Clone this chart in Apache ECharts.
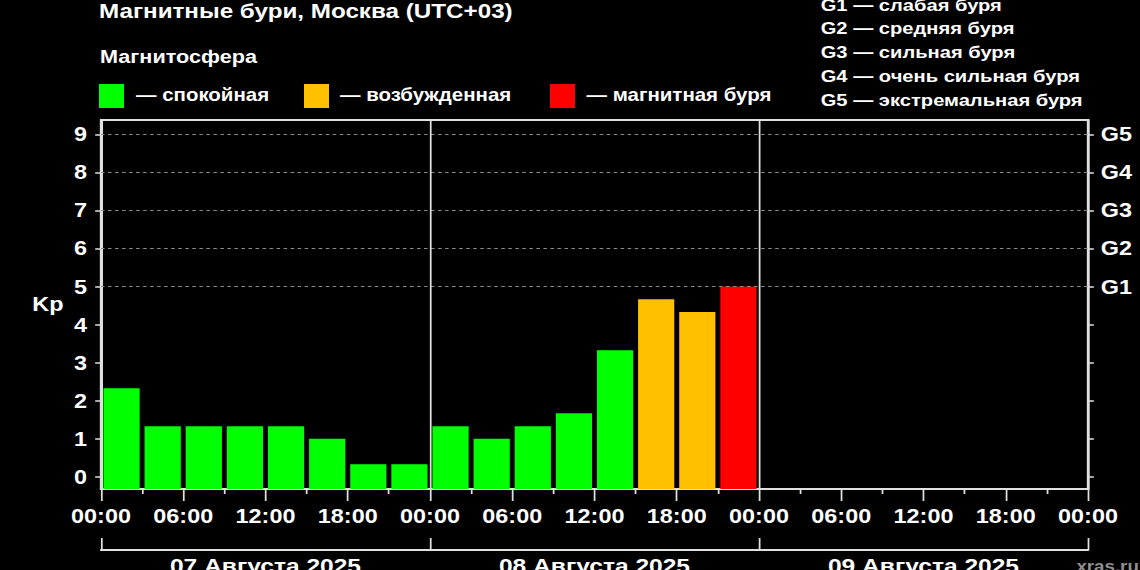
<!DOCTYPE html>
<html><head><meta charset="utf-8">
<script src="https://cdn.jsdelivr.net/npm/echarts@6/dist/echarts.min.js"></script>
<style>
html,body{margin:0;padding:0;background:#000;overflow:hidden;width:1140px;height:570px}
#chart{position:absolute;left:0;top:0;height:570px;transform-origin:0 0}
</style></head><body><div id="chart"></div>
<script>
// ---- data ----
const titleText = 'Магнитные бури, Москва (UTC+03)';
const subtitleText = 'Магнитосфера';
const dayLabels = ['07 Августа 2025', '08 Августа 2025', '09 Августа 2025'];
const hourLabels = ['00:00', '06:00', '12:00', '18:00'];
const kpValues = [2.33, 1.33, 1.33, 1.33, 1.33, 1.0, 0.33, 0.33,
                  1.33, 1.0, 1.33, 1.67, 3.33, 4.67, 4.33, 5.0];
const kpTicks = [0, 1, 2, 3, 4, 5, 6, 7, 8, 9];
const gLevels = [5, 6, 7, 8, 9];
const gLabels = ['G1', 'G2', 'G3', 'G4', 'G5'];
const gNames = ['слабая буря', 'средняя буря', 'сильная буря', 'очень сильная буря', 'экстремальная буря'];
const stateNames = ['спокойная', 'возбужденная', 'магнитная буря'];
const stateColors = ['#00ff00', '#ffc000', '#ff0000'];
const stateLimits = [4, 5];
const slotHours = 3;
const watermark = 'xras.ru';

// ---- layout ----
const W = 974;
const SX = 1140 / W;
const FONT = "'Liberation Sans', Arial, Helvetica, sans-serif";
const Y_MIN = -0.32, Y_MAX = 9.38;
const hoursTotal = dayLabels.length * 24;
const el = document.getElementById('chart');
el.style.width = W + 'px';
el.style.transform = 'scaleX(' + SX + ')';

function colorFor(v) {
  if (v >= stateLimits[1]) return stateColors[2];
  if (v >= stateLimits[0]) return stateColors[1];
  return stateColors[0];
}
function txt(refX, y, t, size, extra) {
  return Object.assign({
    type: 'text', x: refX / SX, y: y, silent: true,
    style: { text: t, fill: '#ffffff', fontSize: size, fontWeight: 'bold', fontFamily: FONT,
             verticalAlign: 'middle', align: 'left' }
  }, extra || {});
}

const graphics = [];
graphics.push(txt(99, 11, titleText, 20.7));
graphics.push(txt(100, 57, subtitleText, 18.5));
const sqX = [99, 304, 550], lgX = [136, 340, 586.5];
stateNames.forEach((n, i) => {
  graphics.push({ type: 'rect', silent: true, shape: { x: sqX[i] / SX, y: 84, width: 25 / SX, height: 24 },
                  style: { fill: stateColors[i] } });
  graphics.push(txt(lgX[i], 95, '— ' + n, 17.5));
});
gLabels.forEach((g, i) => {
  graphics.push(txt(820.7, 4.6 + 23.9 * i, g + ' — ' + gNames[i], 17.2));
});
graphics.push({ type: 'text', silent: true, x: W - 1, y: 566,
  style: { text: watermark, fill: '#8f8f8f', fontSize: 16, fontWeight: 'bold', fontFamily: FONT,
           align: 'right', verticalAlign: 'middle' } });

const lineCol = '#e0e0e0';
const labelStyle = { color: '#ffffff', fontSize: 20, fontWeight: 'bold', fontFamily: FONT };

const markData = gLevels.map(v => ({ yAxis: v, lineStyle: { type: [3, 3], color: '#8c8c8c', width: 1 } }))
  .concat(dayLabels.slice(1).map((d, i) => ({ xAxis: (i + 1) * 24, lineStyle: { type: 'solid', color: lineCol, width: 1.5 } })));

const chart = echarts.init(el, null, { renderer: 'svg', width: W, height: 570 });
chart.setOption({
  backgroundColor: '#000000',
  animation: false,
  grid: { left: 101 / SX, right: W - 1088 / SX, top: 120, bottom: 81, show: true,
          outerBoundsMode: 'none', containLabel: false,
          borderColor: lineCol, borderWidth: 2, backgroundColor: 'transparent' },
  xAxis: [
    { type: 'value', min: 0, max: hoursTotal, interval: 6, position: 'bottom',
      axisLine: { show: true, onZero: false, lineStyle: { color: lineCol, width: 2 } },
      axisTick: { show: true, length: 12, lineStyle: { color: lineCol, width: 1.5 } },
      minorTick: { show: true, splitNumber: 2, length: 5, lineStyle: { color: lineCol, width: 1.5 } },
      splitLine: { show: false },
      axisLabel: Object.assign({ margin: 17, formatter: v => hourLabels[Math.round(v / 6) % 4] }, labelStyle) },
    { type: 'category', data: dayLabels, position: 'bottom', offset: 61, boundaryGap: true,
      axisLine: { show: true, onZero: false, lineStyle: { color: lineCol, width: 2 } },
      axisTick: { show: true, inside: true, length: 12, interval: 0, lineStyle: { color: lineCol, width: 1.5 } },
      splitLine: { show: false },
      axisLabel: Object.assign({ margin: 5, interval: 0 }, labelStyle, { fontSize: 21 }) }
  ],
  yAxis: [
    { type: 'value', min: Y_MIN, max: Y_MAX, position: 'left',
      name: 'Kp', nameLocation: 'middle', nameRotate: 0, nameGap: 32,
      nameTextStyle: Object.assign({}, labelStyle),
      axisLine: { show: true, onZero: false, lineStyle: { color: lineCol, width: 2 } },
      axisTick: { show: true, length: 5, customValues: kpTicks, lineStyle: { color: lineCol, width: 1.5 } },
      axisLabel: Object.assign({ margin: 12, customValues: kpTicks }, labelStyle),
      splitLine: { show: false } },
    { type: 'value', min: Y_MIN, max: Y_MAX, position: 'right',
      axisLine: { show: true, onZero: false, lineStyle: { color: lineCol, width: 2 } },
      axisTick: { show: true, length: 5, customValues: kpTicks, lineStyle: { color: lineCol, width: 1.5 } },
      axisLabel: Object.assign({ margin: 11, customValues: gLevels,
        formatter: v => gLabels[gLevels.indexOf(Math.round(v))] || '' }, labelStyle),
      splitLine: { show: false } }
  ],
  series: [
    { type: 'line', data: [], xAxisIndex: 0, yAxisIndex: 0, z: 1, silent: true,
      markLine: { silent: true, symbol: 'none', animation: false, label: { show: false }, data: markData } },
    { type: 'custom', xAxisIndex: 0, yAxisIndex: 0, z: 3,
      data: kpValues.map((v, i) => [i * slotHours, (i + 1) * slotHours, v]),
      encode: { x: [0, 1], y: 2 },
      renderItem: function (params, api) {
        const x0 = api.value(0), x1 = api.value(1), v = api.value(2);
        const base = api.coord([x0, Y_MIN]);
        const top = api.coord([x1, v]);
        const w = top[0] - base[0];
        const inset = w * 0.06;
        return { type: 'rect',
          shape: { x: base[0] + inset, y: top[1], width: w - 2 * inset, height: base[1] - top[1] },
          style: { fill: colorFor(v) } };
      } }
  ],
  graphic: graphics
});
</script></body></html>
